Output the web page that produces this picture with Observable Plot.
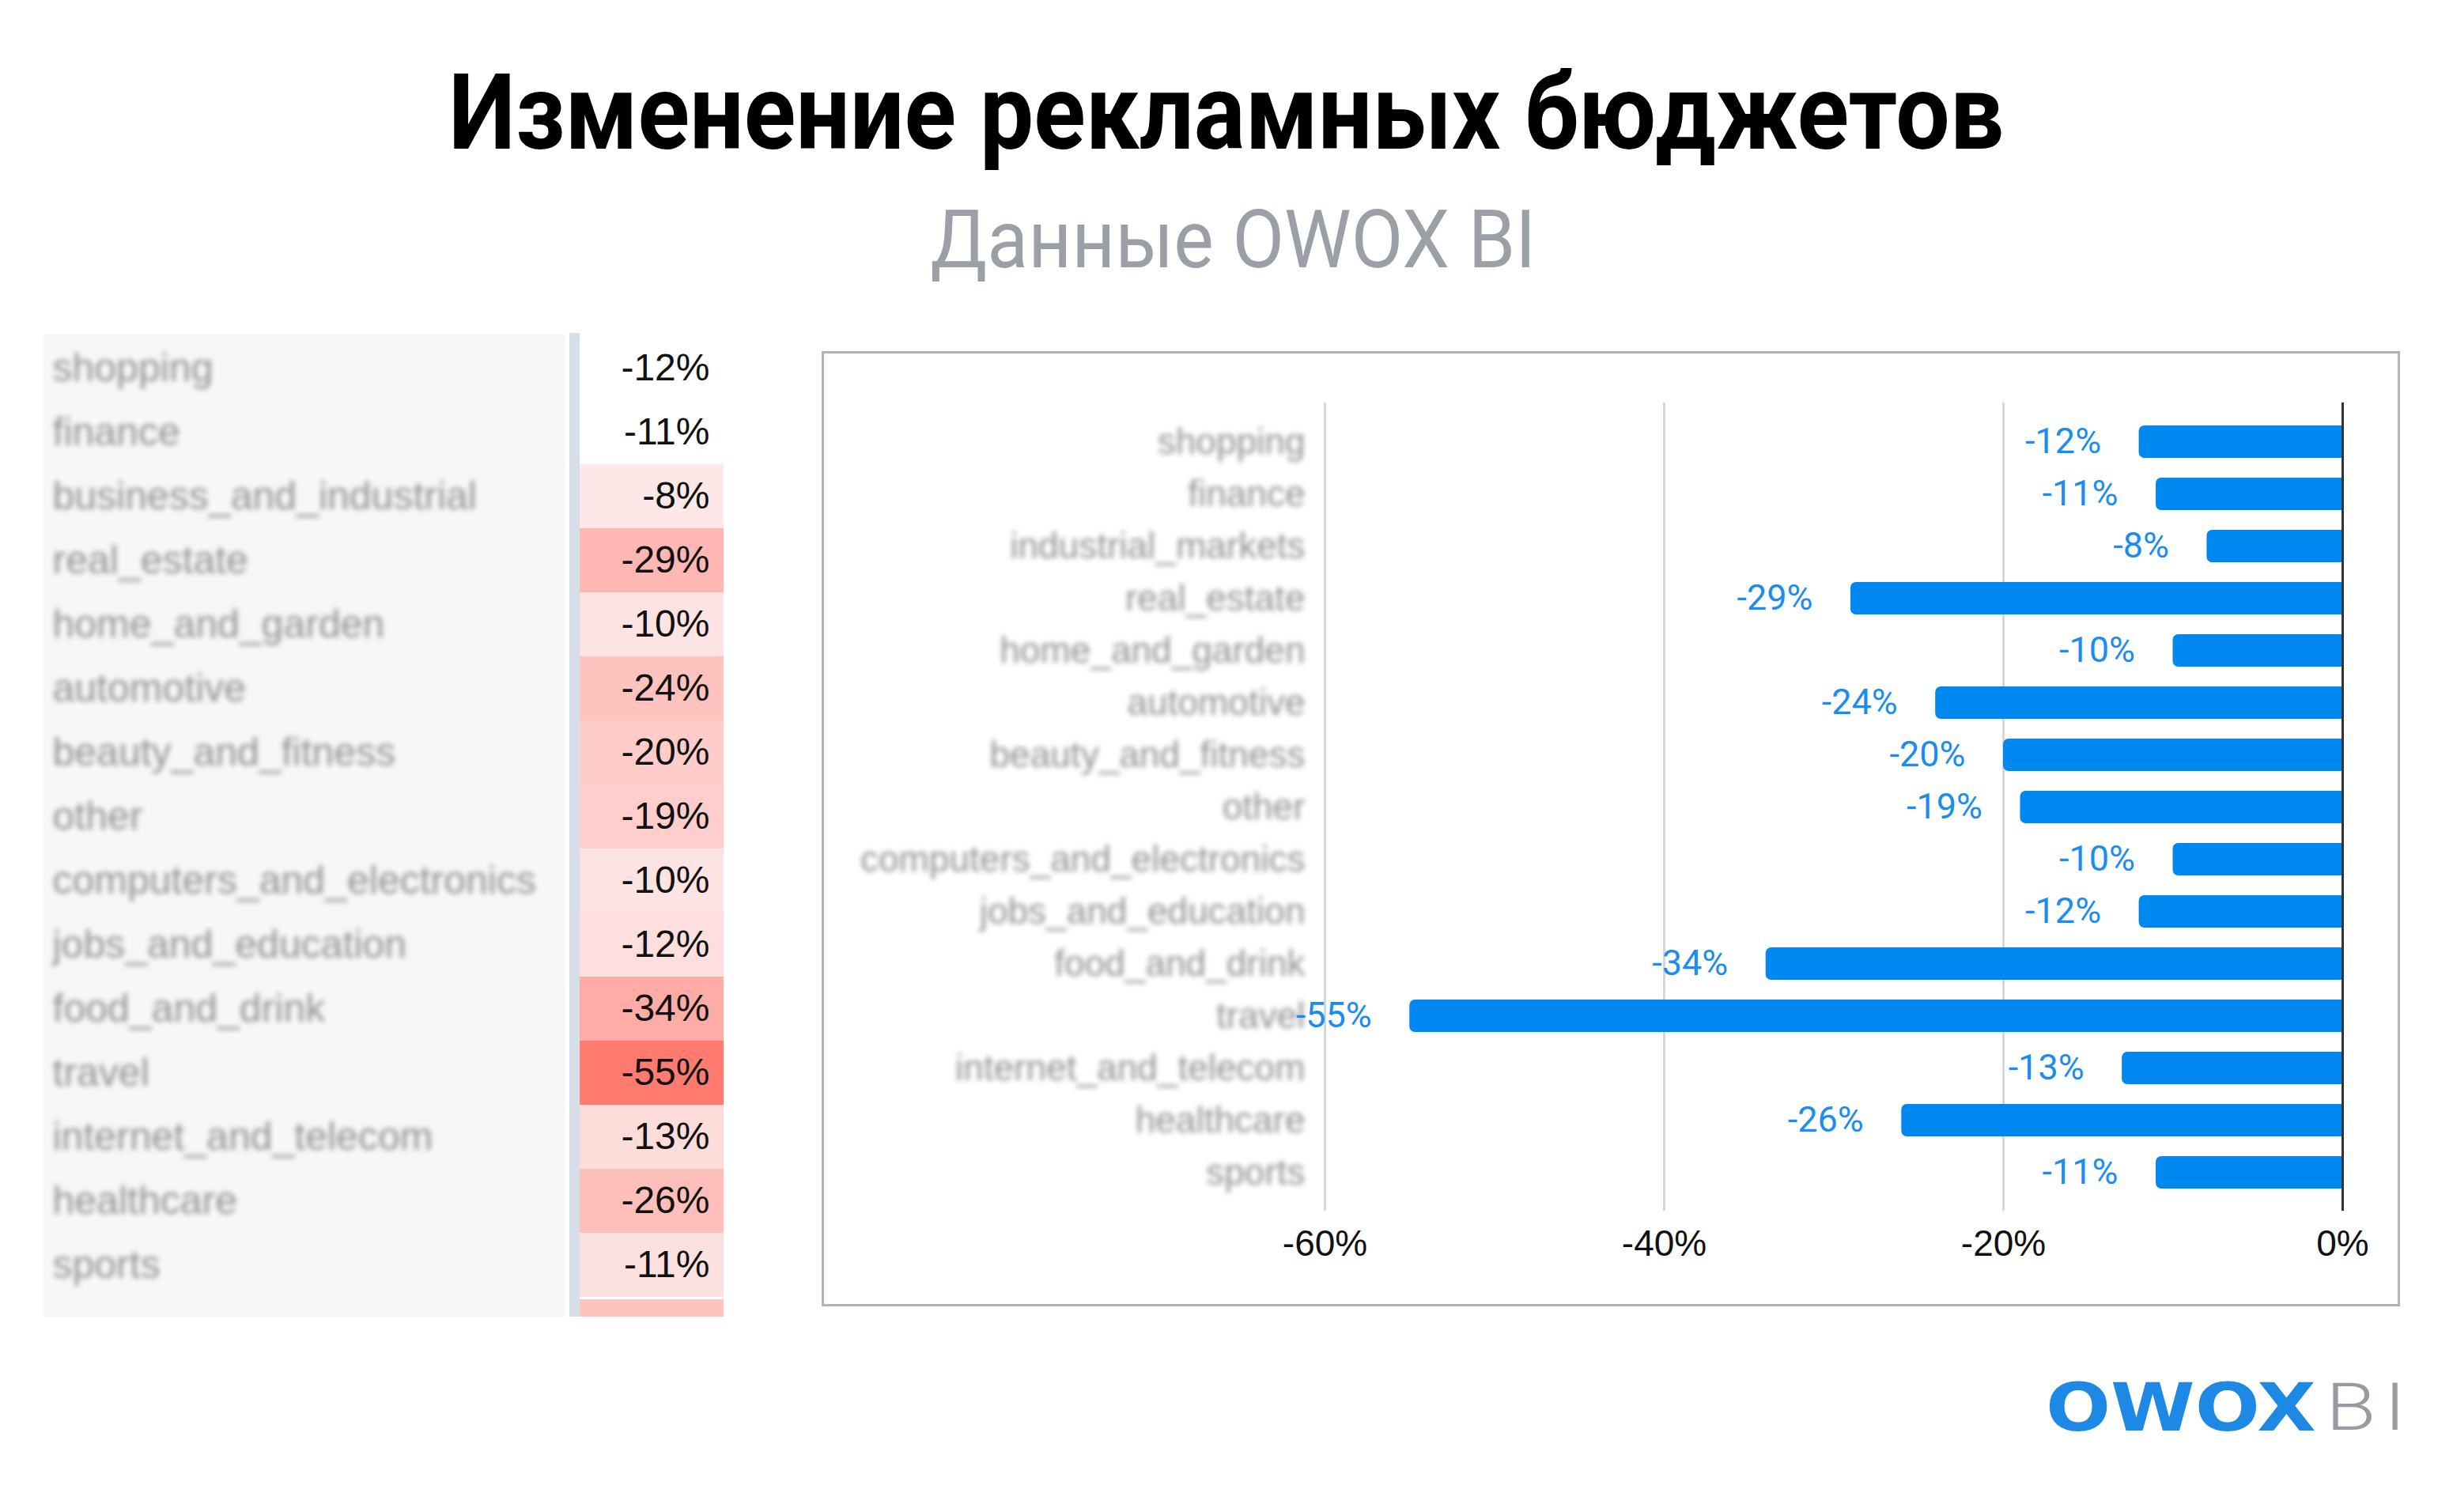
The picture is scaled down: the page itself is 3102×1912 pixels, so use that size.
<!DOCTYPE html>
<html><head><meta charset="utf-8">
<script src="https://cdn.jsdelivr.net/npm/d3@7"></script>
<script src="https://cdn.jsdelivr.net/npm/@observablehq/plot@0.6"></script>
<style>
html,body{margin:0;padding:0;background:#fff;}
#page{position:relative;width:3102px;height:1912px;overflow:hidden;background:#fff;}
.abs{position:absolute;}
#title{left:0;width:3102px;top:76px;text-align:center;font-family:Roboto,sans-serif;font-weight:700;font-size:134px;line-height:134px;color:#000;white-space:nowrap;}
#title span{display:inline-block;transform:scaleX(0.905);transform-origin:50% 50%;}
#subtitle{left:8px;width:3102px;top:252px;text-align:center;font-family:Roboto,sans-serif;font-weight:400;font-size:102px;line-height:102px;color:#9aa0a6;white-space:nowrap;}
#subtitle span{display:inline-block;transform:scaleX(0.935);transform-origin:50% 50%;}
#labelBg{left:55px;top:423px;width:660px;height:1242px;background:#f5f7f9;}
#sep{left:720px;top:421px;width:13px;height:1244px;background:#d6dee8;}
#partial{left:733px;top:1643px;width:182px;height:22px;background:#ffc3be;}
#tableHost{left:0;top:421px;width:916px;height:1222px;}
#chartHost{left:1042px;top:447px;width:1990px;height:1202px;}
#frame{left:1039px;top:444px;width:1996px;height:1208px;border:3px solid #b3b3b3;box-sizing:border-box;}
#owox{left:2587px;top:1738px;font-family:"DejaVu Sans",sans-serif;font-weight:700;font-size:84px;line-height:84px;color:#1e88e5;transform:scaleX(1.15);transform-origin:0 50%;white-space:nowrap;}
#bi{left:2941px;top:1738px;font-family:Roboto,sans-serif;font-weight:300;font-size:83px;line-height:83px;color:#979ca3;transform:scaleX(1.25);transform-origin:0 50%;letter-spacing:8px;white-space:nowrap;}
svg{overflow:visible;}
</style>
</head><body>
<div id="page">
  <div id="title" class="abs"><span>Изменение рекламных бюджетов</span></div>
  <div id="subtitle" class="abs"><span>Данные OWOX BI</span></div>
  <div id="labelBg" class="abs"></div>
  <div id="sep" class="abs"></div>
  <div id="partial" class="abs"></div>
  <div id="tableHost" class="abs"></div>
  <div id="chartHost" class="abs"></div>
  <div id="frame" class="abs"></div>
  <div id="owox" class="abs">OWOX</div>
  <div id="bi" class="abs">BI</div>
</div>
<script>
// ---- data ----
const tableCategories = ["shopping","finance","business_and_industrial","real_estate","home_and_garden","automotive","beauty_and_fitness","other","computers_and_electronics","jobs_and_education","food_and_drink","travel","internet_and_telecom","healthcare","sports"];
const tableValues = [-12,-11,-8,-29,-10,-24,-20,-19,-10,-12,-34,-55,-13,-26,-11];
const chartCategories = ["shopping","finance","industrial_markets","real_estate","home_and_garden","automotive","beauty_and_fitness","other","computers_and_electronics","jobs_and_education","food_and_drink","travel","internet_and_telecom","healthcare","sports"];
const chartValues = [-12,-11,-8,-29,-10,-24,-20,-19,-10,-12,-34,-55,-13,-26,-11];
const xTicks = [-60,-40,-20,0];
const unformattedRows = 2; // first rows of the table have no heat colouring

const pct = d => `${d}%`;

// ---- left table ----
const tableData = tableCategories.map((c,i) => ({category:c, value:tableValues[i], formatted: i >= unformattedRows}));
const table = Plot.plot({
  width: 916, height: 1222,
  marginLeft: 733, marginRight: 1, marginTop: 0, marginBottom: 0,
  style: {background:"transparent", fontFamily:"'Liberation Sans', Arial, sans-serif", overflow:"visible"},
  x: {axis: null},
  y: {domain: tableCategories, axis: null, padding: 0},
  color: {type:"linear", domain:[-55,-8], range:["#ff7b70","#fde8e7"], interpolate:"rgb"},
  marks: [
    Plot.cell(tableData.filter(d => d.formatted), {y:"category", fill:"value"}),
    Plot.text(tableData, {y:"category", text: d => pct(d.value), frameAnchor:"right", textAnchor:"end", dx:-18, fontSize:48, fill:"#111"}),
    Plot.text(tableData, {y:"category", text:"category", frameAnchor:"left", textAnchor:"start", dx:66-733, fontSize:50, fill:"#929292"})
  ]
});
document.getElementById("tableHost").appendChild(table);
d3.select(table).selectAll("text").filter(function(){ return tableCategories.includes(this.textContent); })
  .style("filter","blur(3px)");

// ---- right bar chart ----
const chartData = chartCategories.map((c,i) => ({category:c, value:chartValues[i]}));
const chart = Plot.plot({
  width: 1990, height: 1202,
  marginLeft: 633, marginRight: 70, marginTop: 62, marginBottom: 118,
  style: {background:"transparent", fontFamily:"'Liberation Sans', Arial, sans-serif", fontSize:"46px", color:"#111", overflow:"visible"},
  x: {domain:[-60,0], ticks: xTicks, tickFormat: pct, tickSize:0, tickPadding:24, label:null},
  y: {domain: chartCategories, axis:null, paddingInner:0.386, paddingOuter:0.367},
  marks: [
    Plot.ruleX(xTicks.filter(t => t !== 0), {stroke:"#d7d7d7", strokeWidth:3}),
    Plot.barX(chartData, {y:"category", x:"value", fill:"#0088f0", rx:7}),
    Plot.barX(chartData, {y:"category", x1: d => d.value/2, x2: () => 0, fill:"#0088f0"}),
    Plot.ruleX([0], {stroke:"#333", strokeWidth:3}),
    Plot.text(chartData, {y:"category", text:"category", frameAnchor:"left", textAnchor:"end", dx:-25, fontSize:46, fill:"#929292"}),
    Plot.text(chartData, {y:"category", x:"value", text: d => pct(d.value), textAnchor:"end", dx:-48, fill:"#1b8cf0", fontSize:45, fontFamily:"Roboto, sans-serif"})
  ]
});
document.getElementById("chartHost").appendChild(chart);
d3.select(chart).selectAll("text").filter(function(){ return chartCategories.includes(this.textContent); })
  .style("filter","blur(3px)");
</script>
</body></html>
